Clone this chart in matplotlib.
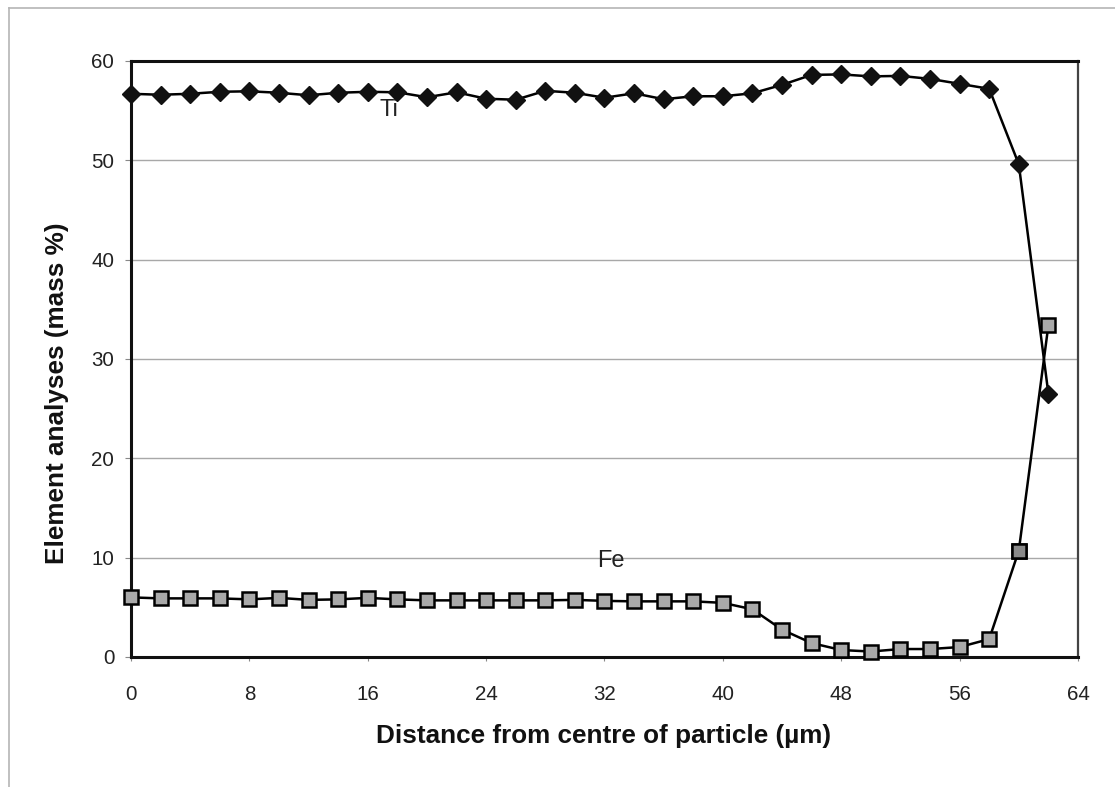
import numpy as np
import matplotlib
matplotlib.use("Agg")
import matplotlib.pyplot as plt
from matplotlib.lines import Line2D

plt.rcParams['font.family'] = ['Liberation Sans', 'DejaVu Sans']

# distance from particle centre (um), sampled every 2 um
distance = [0, 2, 4, 6, 8, 10, 12, 14, 16, 18, 20, 22, 24, 26, 28, 30,
            32, 34, 36, 38, 40, 42, 44, 46, 48, 50, 52, 54, 56, 58, 60, 62]

ti = [56.7, 56.6, 56.7, 56.9, 56.95, 56.8, 56.55, 56.8, 56.9, 56.85, 56.35, 56.85,
      56.2, 56.1, 57.0, 56.8, 56.3, 56.75, 56.15, 56.45, 56.45, 56.75, 57.6, 58.6,
      58.65, 58.45, 58.5, 58.2, 57.7, 57.2, 49.6, 26.5]

fe = [6.0, 5.9, 5.9, 5.9, 5.8, 5.95, 5.75, 5.8, 5.95, 5.8, 5.7, 5.7,
      5.7, 5.7, 5.7, 5.75, 5.65, 5.6, 5.6, 5.6, 5.45, 4.8, 2.75, 1.4,
      0.7, 0.55, 0.8, 0.8, 1.0, 1.8, 10.7, 33.4]

x_ticks = [0, 8, 16, 24, 32, 40, 48, 56, 64]
y_ticks = [0, 10, 20, 30, 40, 50, 60]

fig = plt.figure(figsize=(11.15, 7.87), dpi=100)
ax = fig.add_axes([0.1175, 0.1652, 0.8493, 0.7573])

# gridlines
for yv in y_ticks[1:-1]:
    ax.axhline(yv, color='#a8a8a8', lw=1.0, zorder=1)

ax.plot(distance, fe, color='black', lw=1.8, marker='s', ms=10,
        mfc='#a9a9a9', mec='black', mew=1.8, zorder=3, clip_on=False)
ax.plot(distance[-2], fe[-2], marker='s', ms=10, mfc='#8a8a8a', mec='black',
        mew=1.8, zorder=4, clip_on=False)
ax.plot(distance, ti, color='black', lw=1.8, marker='D', ms=9,
        mfc='#111111', mec='#111111', zorder=4, clip_on=False)

ax.text(17.4, 55.1, 'Ti', fontsize=17, ha='center', va='center', color='#222222')
ax.text(32.4, 9.7, 'Fe', fontsize=17, ha='center', va='center', color='#222222')

ax.set_xlim(0, 64)
ax.set_ylim(0, 60)
ax.set_xticks(x_ticks)
ax.set_yticks(y_ticks)
ax.tick_params(axis='x', length=3, width=0.8, color='#888888', pad=17,
               labelsize=14.8, labelcolor='#222222')
ax.tick_params(axis='y', length=4, width=0.8, color='#888888', pad=8,
               labelsize=14.8, labelcolor='#222222')

for side in ['top', 'left', 'bottom']:
    ax.spines[side].set_linewidth(2.2)
    ax.spines[side].set_color('#111111')
ax.spines['right'].set_linewidth(1.6)
ax.spines['right'].set_color('#444444')

fig.text(57 / 1115, 1 - 393 / 787, 'Element analyses (mass %)', rotation=90,
         ha='center', va='center', fontsize=18.8, fontweight='bold', color='#111111')
fig.text(604 / 1115, 1 - 736 / 787, 'Distance from centre of particle (\u00b5m)',
         ha='center', va='center', fontsize=18.8, fontweight='bold', color='#111111')

# thin frame lines around the figure (top and left)
fig.add_artist(Line2D([9 / 1115, 1], [1 - 8 / 787, 1 - 8 / 787],
                      transform=fig.transFigure, color='#b5b5b5', lw=1.2))
fig.add_artist(Line2D([9 / 1115, 9 / 1115], [0, 1 - 8 / 787],
                      transform=fig.transFigure, color='#b5b5b5', lw=1.2))

fig.savefig('out.png', dpi=100)
